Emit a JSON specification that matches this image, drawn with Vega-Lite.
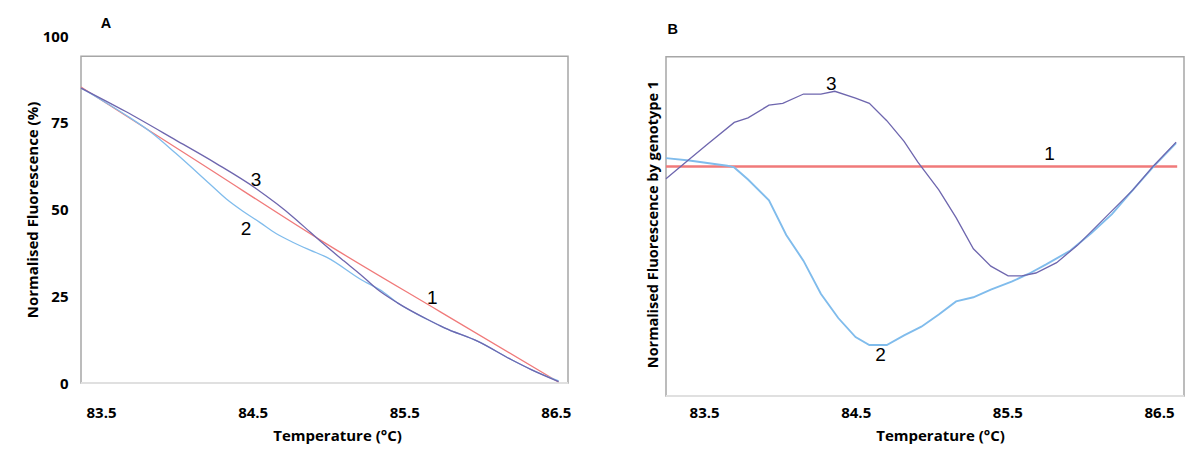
{
  "$schema": "https://vega.github.io/schema/vega-lite/v6.json",
  "background": "white",
  "padding": {"left": 25, "top": 15, "right": 5, "bottom": 5},
  "bounds": "flush",
  "spacing": 98,
  "config": {
    "view": {"stroke": null},
    "axis": {
      "grid": false, "ticks": false, "tickSize": 0, "domain": false,
      "labelFont": "Open Sans", "labelFontWeight": "bold", "labelFontSize": 15, "labelColor": "#000",
      "titleFont": "Open Sans", "titleFontWeight": "bold", "titleFontSize": 15, "titleColor": "#000"
    }
  },
  "datasets": {
    "a": [
      {"s": "1", "t": 83.368, "v": 85.3}, {"s": "1", "t": 84.153, "v": 63.4}, {"s": "1", "t": 84.979, "v": 40.3}, {"s": "1", "t": 85.738, "v": 20.5}, {"s": "1", "t": 86.517, "v": 0.3},
      {"s": "2", "t": 83.368, "v": 85.0}, {"s": "2", "t": 83.660, "v": 77.3}, {"s": "2", "t": 83.838, "v": 72.0}, {"s": "2", "t": 83.993, "v": 66.2}, {"s": "2", "t": 84.214, "v": 57.5},
      {"s": "2", "t": 84.325, "v": 53.1}, {"s": "2", "t": 84.436, "v": 49.5}, {"s": "2", "t": 84.547, "v": 46.3}, {"s": "2", "t": 84.657, "v": 43.0}, {"s": "2", "t": 84.768, "v": 40.5},
      {"s": "2", "t": 84.879, "v": 38.3}, {"s": "2", "t": 84.990, "v": 36.2}, {"s": "2", "t": 85.211, "v": 29.9}, {"s": "2", "t": 85.366, "v": 26.1}, {"s": "2", "t": 85.455, "v": 23.1},
      {"s": "2", "t": 85.654, "v": 18.3}, {"s": "2", "t": 85.765, "v": 15.9}, {"s": "2", "t": 85.986, "v": 12.0}, {"s": "2", "t": 86.208, "v": 6.7}, {"s": "2", "t": 86.341, "v": 3.8}, {"s": "2", "t": 86.518, "v": 0.6},
      {"s": "3", "t": 83.368, "v": 85.0}, {"s": "3", "t": 83.660, "v": 78.3}, {"s": "3", "t": 83.993, "v": 70.0}, {"s": "3", "t": 84.258, "v": 63.3}, {"s": "3", "t": 84.524, "v": 56.0},
      {"s": "3", "t": 84.657, "v": 51.7}, {"s": "3", "t": 84.768, "v": 47.8}, {"s": "3", "t": 84.879, "v": 43.5}, {"s": "3", "t": 84.967, "v": 40.1}, {"s": "3", "t": 85.101, "v": 35.2},
      {"s": "3", "t": 85.211, "v": 31.3}, {"s": "3", "t": 85.322, "v": 27.0}, {"s": "3", "t": 85.455, "v": 23.1}, {"s": "3", "t": 85.654, "v": 18.3}, {"s": "3", "t": 85.765, "v": 15.9},
      {"s": "3", "t": 85.986, "v": 12.0}, {"s": "3", "t": 86.208, "v": 6.7}, {"s": "3", "t": 86.341, "v": 3.8}, {"s": "3", "t": 86.518, "v": 0.4}
    ],
    "alab": [
      {"s": "3", "t": 84.523, "v": 58.5}, {"s": "2", "t": 84.457, "v": 44.4}, {"s": "1", "t": 85.685, "v": 24.5}
    ],
    "aletter": [{"s": "A", "t": 83.533, "v": 103.5}],
    "b": [
      {"s": "1", "t": 83.249, "v": 67.5}, {"s": "1", "t": 86.620, "v": 67.5},
      {"s": "2", "t": 83.249, "v": 69.99}, {"s": "2", "t": 83.402, "v": 69.28}, {"s": "2", "t": 83.653, "v": 67.75}, {"s": "2", "t": 83.699, "v": 67.24}, {"s": "2", "t": 83.790, "v": 63.68},
      {"s": "2", "t": 83.928, "v": 57.56}, {"s": "2", "t": 84.042, "v": 47.38}, {"s": "2", "t": 84.156, "v": 39.74}, {"s": "2", "t": 84.270, "v": 30.07}, {"s": "2", "t": 84.385, "v": 22.94},
      {"s": "2", "t": 84.499, "v": 17.34}, {"s": "2", "t": 84.590, "v": 15.0}, {"s": "2", "t": 84.705, "v": 15.0}, {"s": "2", "t": 84.819, "v": 17.85}, {"s": "2", "t": 84.933, "v": 20.39},
      {"s": "2", "t": 85.048, "v": 23.96}, {"s": "2", "t": 85.162, "v": 27.83}, {"s": "2", "t": 85.276, "v": 29.05}, {"s": "2", "t": 85.391, "v": 31.29}, {"s": "2", "t": 85.528, "v": 33.63},
      {"s": "2", "t": 85.642, "v": 35.97}, {"s": "2", "t": 85.756, "v": 38.72}, {"s": "2", "t": 85.916, "v": 42.8}, {"s": "2", "t": 86.053, "v": 47.89}, {"s": "2", "t": 86.190, "v": 53.49},
      {"s": "2", "t": 86.328, "v": 60.62}, {"s": "2", "t": 86.465, "v": 67.54}, {"s": "2", "t": 86.613, "v": 74.37},
      {"s": "3", "t": 83.249, "v": 63.88}, {"s": "3", "t": 83.379, "v": 68.77}, {"s": "3", "t": 83.516, "v": 73.86}, {"s": "3", "t": 83.699, "v": 80.48}, {"s": "3", "t": 83.790, "v": 81.8},
      {"s": "3", "t": 83.928, "v": 85.57}, {"s": "3", "t": 84.019, "v": 86.08}, {"s": "3", "t": 84.156, "v": 88.83}, {"s": "3", "t": 84.270, "v": 88.83}, {"s": "3", "t": 84.362, "v": 89.64},
      {"s": "3", "t": 84.499, "v": 87.61}, {"s": "3", "t": 84.590, "v": 86.08}, {"s": "3", "t": 84.705, "v": 80.99}, {"s": "3", "t": 84.819, "v": 74.88}, {"s": "3", "t": 84.910, "v": 68.77},
      {"s": "3", "t": 85.048, "v": 60.62}, {"s": "3", "t": 85.162, "v": 52.47}, {"s": "3", "t": 85.276, "v": 43.31}, {"s": "3", "t": 85.391, "v": 38.21}, {"s": "3", "t": 85.505, "v": 35.36},
      {"s": "3", "t": 85.596, "v": 35.36}, {"s": "3", "t": 85.688, "v": 36.18}, {"s": "3", "t": 85.825, "v": 39.23}, {"s": "3", "t": 85.962, "v": 44.32}, {"s": "3", "t": 86.145, "v": 52.47},
      {"s": "3", "t": 86.328, "v": 60.62}, {"s": "3", "t": 86.465, "v": 67.75}, {"s": "3", "t": 86.613, "v": 74.67}
    ],
    "blab": [
      {"s": "3", "t": 84.339, "v": 91.68}, {"s": "1", "t": 85.779, "v": 71.31}, {"s": "2", "t": 84.664, "v": 11.94}
    ],
    "bletter": [{"s": "B", "t": 83.293, "v": 107.6}],
    "one": [{}]
  },
  "hconcat": [
    {
      "width": 487,
      "height": 347,
      "layer": [
        {
          "data": {"name": "one"},
          "mark": {"type": "rect", "fill": "transparent", "stroke": "#a6a6a6", "strokeWidth": 1.5, "strokeOpacity": 1},
          "encoding": {
            "x": {"datum": 83.368, "type": "quantitative", "scale": {"domain": [83.368, 86.58], "nice": false, "zero": false}},
            "x2": {"datum": 86.58},
            "y": {"datum": 0, "type": "quantitative", "scale": {"domain": [0, 100], "nice": false}},
            "y2": {"datum": 94.2}
          }
        },
        {
          "data": {"name": "one"},
          "mark": {"type": "rule", "stroke": "#e0e0e0", "strokeWidth": 2},
          "encoding": {
            "x": {"datum": 83.368, "type": "quantitative"},
            "x2": {"datum": 86.58},
            "y": {"datum": 0, "type": "quantitative"}
          }
        },
        {
          "data": {"name": "a"},
          "mark": {"type": "line", "strokeWidth": 1.3, "interpolate": "monotone"},
          "encoding": {
            "x": {"field": "t", "type": "quantitative", "scale": {"domain": [83.368, 86.58], "nice": false, "zero": false},
              "axis": {"values": [83.5, 84.5, 85.5, 86.5], "format": ".1f", "labelPadding": 22.5, "title": "Temperature (°C)", "titlePadding": 8, "titleX": 256}},
            "y": {"field": "v", "type": "quantitative", "scale": {"domain": [0, 100], "nice": false},
              "axis": {"values": [0, 25, 50, 75, 100], "labelPadding": 13, "title": "Normalised Fluorescence (%)", "titlePadding": 2}},
            "color": {"field": "s", "type": "nominal", "scale": {"domain": ["1", "2", "3"], "range": ["#f07a7a", "#80bcec", "#6e66ae"]}, "legend": null}
          }
        },
        {
          "data": {"name": "alab"},
          "mark": {"type": "text", "font": "Liberation Sans", "fontSize": 19, "color": "#000", "baseline": "middle", "align": "center"},
          "encoding": {
            "x": {"field": "t", "type": "quantitative"},
            "y": {"field": "v", "type": "quantitative"},
            "text": {"field": "s"}
          }
        },
        {
          "data": {"name": "aletter"},
          "mark": {"type": "text", "font": "Liberation Sans", "fontWeight": "bold", "fontSize": 14.5, "color": "#000", "baseline": "middle", "align": "center"},
          "encoding": {
            "x": {"field": "t", "type": "quantitative"},
            "y": {"field": "v", "type": "quantitative"},
            "text": {"field": "s"}
          }
        }
      ]
    },
    {
      "width": 518,
      "height": 360,
      "layer": [
        {
          "data": {"name": "one"},
          "mark": {"type": "rect", "fill": "transparent", "stroke": "#a6a6a6", "strokeWidth": 1.5, "strokeOpacity": 1},
          "encoding": {
            "x": {"datum": 83.249, "type": "quantitative", "scale": {"domain": [83.249, 86.665], "nice": false, "zero": false}},
            "x2": {"datum": 86.665},
            "y": {"datum": 0, "type": "quantitative", "scale": {"domain": [0, 105.9], "nice": false}},
            "y2": {"datum": 99.8}
          }
        },
        {
          "data": {"name": "one"},
          "mark": {"type": "rule", "stroke": "#e0e0e0", "strokeWidth": 2},
          "encoding": {
            "x": {"datum": 83.249, "type": "quantitative"},
            "x2": {"datum": 86.665},
            "y": {"datum": 0, "type": "quantitative"}
          }
        },
        {
          "data": {"name": "b"},
          "mark": {"type": "line", "interpolate": "linear"},
          "encoding": {
            "x": {"field": "t", "type": "quantitative", "scale": {"domain": [83.249, 86.665], "nice": false, "zero": false},
              "axis": {"values": [83.5, 84.5, 85.5, 86.5], "format": ".1f", "labelPadding": 9.5, "title": "Temperature (°C)", "titlePadding": 8, "titleX": 274}},
            "y": {"field": "v", "type": "quantitative", "scale": {"domain": [0, 105.9], "nice": false},
              "axis": {"labels": false, "title": "Normalised Fluorescence  by genotype 1", "titleFontSize": 14.5, "titlePadding": 6, "titleY": 188}},
            "color": {"field": "s", "type": "nominal", "scale": {"domain": ["1", "2", "3"], "range": ["#f07a7a", "#80bcec", "#6e66ae"]}, "legend": null},
            "strokeWidth": {"field": "s", "type": "nominal", "scale": {"domain": ["1", "2", "3"], "range": [2.5, 1.3, 1.3]}, "legend": null}
          }
        },
        {
          "data": {"name": "blab"},
          "mark": {"type": "text", "font": "Liberation Sans", "fontSize": 19, "color": "#000", "baseline": "middle", "align": "center"},
          "encoding": {
            "x": {"field": "t", "type": "quantitative"},
            "y": {"field": "v", "type": "quantitative"},
            "text": {"field": "s"}
          }
        },
        {
          "data": {"name": "bletter"},
          "mark": {"type": "text", "font": "Liberation Sans", "fontWeight": "bold", "fontSize": 14.5, "color": "#000", "baseline": "middle", "align": "center"},
          "encoding": {
            "x": {"field": "t", "type": "quantitative"},
            "y": {"field": "v", "type": "quantitative"},
            "text": {"field": "s"}
          }
        }
      ]
    }
  ]
}
